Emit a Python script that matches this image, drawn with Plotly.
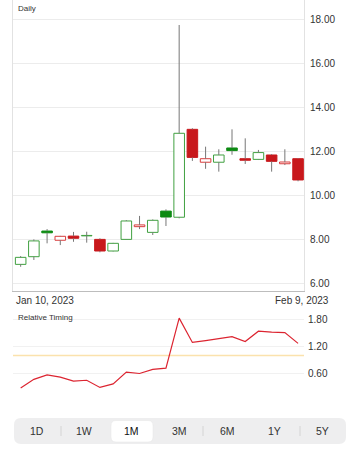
import plotly.graph_objects as go
from plotly.subplots import make_subplots

dates = ["2023-01-10", "2023-01-11", "2023-01-12", "2023-01-13", "2023-01-17", "2023-01-18",
         "2023-01-19", "2023-01-20", "2023-01-23", "2023-01-24", "2023-01-25", "2023-01-26",
         "2023-01-27", "2023-01-30", "2023-01-31", "2023-02-01", "2023-02-02", "2023-02-03",
         "2023-02-06", "2023-02-07", "2023-02-08", "2023-02-09"]
open_ = [6.85, 7.20, 8.37, 7.95, 8.14, 8.15, 7.99, 7.46, 7.99, 8.57, 8.31, 9.28, 9.00, 13.01,
         11.51, 11.51, 12.16, 11.67, 11.64, 11.84, 11.44, 11.67]
high = [7.23, 7.99, 8.46, 8.15, 8.33, 8.34, 8.04, 7.83, 8.87, 9.06, 8.90, 9.36, 17.77, 13.06,
        12.22, 12.10, 13.01, 12.60, 12.07, 11.88, 12.10, 11.70]
low = [6.74, 7.05, 7.81, 7.73, 7.88, 7.84, 7.40, 7.44, 7.97, 8.46, 8.19, 8.60, 8.95, 11.57,
       11.21, 11.08, 11.85, 11.43, 11.61, 11.08, 11.38, 10.64]
close = [7.17, 7.92, 8.29, 8.13, 8.04, 8.17, 7.46, 7.81, 8.83, 8.65, 8.86, 9.01, 12.83, 11.73,
         11.67, 11.84, 12.04, 11.60, 11.95, 11.55, 11.52, 10.70]
rel_timing = [0.28, 0.47, 0.57, 0.52, 0.43, 0.45, 0.29, 0.37, 0.63, 0.60, 0.69, 0.72, 1.83, 1.29,
              1.33, 1.38, 1.42, 1.31, 1.54, 1.52, 1.51, 1.27]
price_ticks = [6, 8, 10, 12, 14, 16, 18]
rt_ticks = [0.6, 1.2, 1.8]
rt_baseline = 1.0
date_labels = ["Jan 10, 2023", "Feb 9, 2023"]
ranges = ["1D", "1W", "1M", "3M", "6M", "1Y", "5Y"]
selected_range = "1M"

GREEN_LINE = "#40a040"
GREEN_FILL = "#0c8a12"
RED_LINE = "#d83c3c"
RED_FILL = "#c8181c"
FONT = "Liberation Sans"

W, H = 358, 450
L, R = 13, 304


def px_x(px):
    return (px - L) / (R - L)


def px_y(py):
    return (H - py) / H


# candle body styles
fills, lines = [], []
for i in range(len(close)):
    prev = close[i - 1] if i > 0 else open_[i]
    up_vs_prev = close[i] >= prev
    hollow = close[i] >= open_[i]
    lc = GREEN_LINE if up_vs_prev else RED_LINE
    fc = "white" if hollow else (GREEN_FILL if up_vs_prev else RED_FILL)
    if not hollow:
        lc = GREEN_FILL if up_vs_prev else RED_FILL
    fills.append(fc)
    lines.append(lc)

body_base = [min(o, c) for o, c in zip(open_, close)]
body_h = [abs(c - o) for o, c in zip(open_, close)]

wx, wy = [], []
for d, o, h, l, c in zip(dates, open_, high, low, close):
    wx += [d, d, None, d, d, None]
    wy += [h, max(o, c), None, min(o, c), l, None]

fig = make_subplots(rows=2, cols=1)

fig.add_trace(go.Scatter(x=wx, y=wy, mode="lines", line=dict(color="#777777", width=1),
                         hoverinfo="skip", showlegend=False), row=1, col=1)
fig.add_trace(go.Bar(x=dates, y=body_h, base=body_base, width=0.8,
                     marker=dict(color=fills, line=dict(color=lines, width=1)),
                     showlegend=False), row=1, col=1)
fig.add_trace(go.Scatter(x=dates, y=rel_timing, mode="lines",
                         line=dict(color="#dc2430", width=1.2), showlegend=False), row=2, col=1)

xr = [-0.58, 21.45]
fig.update_xaxes(type="category", range=xr, showticklabels=False, showgrid=False, zeroline=False,
                 fixedrange=True)
fig.update_xaxes(showline=True, linecolor="#bdbdbd", linewidth=1, row=1, col=1)
fig.update_xaxes(showline=False, row=2, col=1)

fig.update_layout(
    width=W, height=H, margin=dict(l=L, r=W - R, t=0, b=0),
    paper_bgcolor="white", plot_bgcolor="white",
    font=dict(family=FONT, size=10, color="#333333"),
    bargap=0.2,
    xaxis=dict(domain=[0, 1]),
    xaxis2=dict(domain=[0, 1], matches="x"),
    yaxis=dict(domain=[px_y(291), 1.0], range=[6 - 8 / 21.92, 6 + 283 / 21.92], side="right",
               tickvals=price_ticks, tickformat=".2f", showgrid=True, gridcolor="#ececec",
               showline=True, mirror=True, linecolor="#e2e2e2", zeroline=False, ticks="",
               ticklabelstandoff=3,
               tickfont=dict(size=10, color="#333333")),
    yaxis2=dict(domain=[px_y(395), px_y(308)], range=[1.2 - 48.5 / 45, 1.2 + 38.5 / 45],
                side="right", tickvals=rt_ticks, tickformat=".2f", showgrid=True,
                gridcolor="#f1f1f1", showline=False, zeroline=False, ticks="",
                ticklabelstandoff=3,
                tickfont=dict(size=10, color="#333333")),
)

shapes = [
    dict(type="line", xref="x2 domain", yref="y2", x0=0, x1=1, y0=rt_baseline, y1=rt_baseline,
         line=dict(color="#fbe2ad", width=1.5), layer="below"),
]


def rrect(x0, y0, x1, y1, r, fill, line_color=None):
    X0, X1 = px_x(x0), px_x(x1)
    Y0, Y1 = px_y(y0), px_y(y1)
    rx, ry = r / (R - L), r / H
    path = (f"M {X0 + rx},{Y0} L {X1 - rx},{Y0} Q {X1},{Y0} {X1},{Y0 - ry} "
            f"L {X1},{Y1 + ry} Q {X1},{Y1} {X1 - rx},{Y1} L {X0 + rx},{Y1} "
            f"Q {X0},{Y1} {X0},{Y1 + ry} L {X0},{Y0 - ry} Q {X0},{Y0} {X0 + rx},{Y0} Z")
    return dict(type="path", xref="paper", yref="paper", path=path, fillcolor=fill,
                line=dict(color=line_color or fill, width=0.5 if line_color else 0), layer="above")


shapes.append(rrect(14, 418, 346, 444, 7, "#eeeeef"))
shapes.append(rrect(111, 420.5, 153, 442, 5, "#ffffff", "#e4e4e4"))
for sx in [61, 203, 300]:
    shapes.append(dict(type="line", xref="paper", yref="paper", x0=px_x(sx), x1=px_x(sx),
                       y0=px_y(426), y1=px_y(436), line=dict(color="#d4d4d4", width=1)))

annotations = [
    dict(text="Daily", x=px_x(16), y=px_y(2), xref="paper", yref="paper", xanchor="left",
         yanchor="top", showarrow=False, font=dict(size=8, color="#333333")),
    dict(text="Relative Timing", x=px_x(16), y=px_y(311), xref="paper", yref="paper",
         xanchor="left", yanchor="top", showarrow=False, font=dict(size=8, color="#333333")),
    dict(text=date_labels[0], x=px_x(14), y=px_y(300.5), xref="paper", yref="paper",
         xanchor="left", yanchor="middle", showarrow=False, font=dict(size=10, color="#333333")),
    dict(text=date_labels[1], x=px_x(331), y=px_y(300.5), xref="paper", yref="paper",
         xanchor="right", yanchor="middle", showarrow=False, font=dict(size=10, color="#333333")),
]
centers = [37, 84, 131, 179, 227, 274, 322]
for lab, cx in zip(ranges, centers):
    annotations.append(dict(text=lab, x=px_x(cx), y=px_y(431), xref="paper", yref="paper",
                            xanchor="center", yanchor="middle", showarrow=False,
                            font=dict(size=10.5, color="#111111" if lab == selected_range else "#333333")))

fig.update_layout(shapes=shapes, annotations=annotations)
fig.write_html("out.html")
